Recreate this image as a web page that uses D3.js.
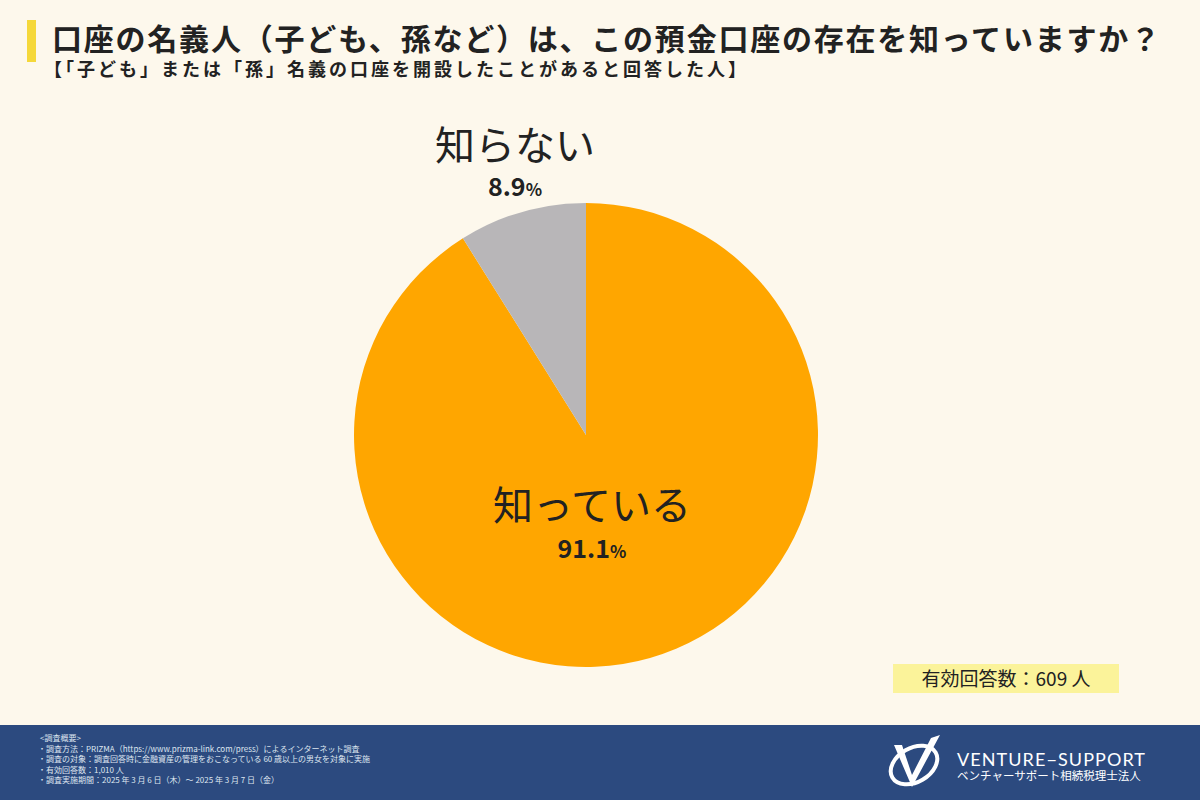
<!DOCTYPE html>
<html><head><meta charset="utf-8">
<script src="https://cdn.jsdelivr.net/npm/d3@7"></script>
<style>body{margin:0;background:#fdf8ec}svg{display:block;font-family:"Noto Sans CJK JP","Noto Sans",sans-serif}</style>
</head><body><div class="graf"></div>
<script>
// data
const labels = ['知っている', '知らない'];
const values = [91.1, 8.9];
const colors = ['#ffa600', '#b8b6b8'];
const notes = [
  '<調査概要>',
  '・調査方法：PRIZMA（https://www.prizma-link.com/press）によるインターネット調査',
  '・調査の対象：調査回答時に金融資産の管理をおこなっている 60 歳以上の男女を対象に実施',
  '・有効回答数：1,010 人',
  '・調査実施期間：2025 年 3 月 6 日（木）～ 2025 年 3 月 7 日（金）'
];

function main(){
  const width = 1200, height = 800;
  const svg = d3.select('.graf').append('svg').attr('width', width).attr('height', height);
  svg.append('rect').attr('width', width).attr('height', height).attr('fill', '#fdf8ec');

  // title
  svg.append('rect').attr('x', 27).attr('y', 20).attr('width', 9).attr('height', 42).attr('fill', '#f5d83a');
  svg.append('text').attr('x', 52).attr('y', 50).attr('font-size', 30).attr('font-weight', 700).attr('fill', '#222')
    .attr('textLength', 1108).attr('lengthAdjust', 'spacing')
    .text('口座の名義人（子ども、孫など）は、この預金口座の存在を知っていますか？');
  svg.append('text').attr('x', 44).attr('y', 76).attr('font-size', 18).attr('font-weight', 700).attr('fill', '#222')
    .attr('textLength', 702).attr('lengthAdjust', 'spacing')
    .text('【「子ども」または「孫」名義の口座を開設したことがあると回答した人】');

  // pie
  const cx = 586, cy = 435, r = 232;
  const pie = d3.pie().sort(null).value(d => d)(values);
  const arc = d3.arc().innerRadius(0).outerRadius(r);
  const g = svg.append('g').attr('transform', `translate(${cx},${cy})`);
  g.selectAll('path').data(pie).join('path').attr('d', arc).attr('fill', (d, i) => colors[i]);

  const lbl = [{x: 592, y: 520, y2: 558}, {x: 515, y: 160, y2: 196}];
  labels.forEach((t, i) => {
    svg.append('text').attr('x', lbl[i].x).attr('y', lbl[i].y).attr('text-anchor', 'middle')
      .attr('font-size', 40).attr('fill', '#222').text(t);
    const v = svg.append('text').attr('x', lbl[i].x).attr('y', lbl[i].y2).attr('text-anchor', 'middle')
      .attr('font-size', 25).attr('font-weight', 700).attr('fill', '#222');
    v.append('tspan').text(values[i].toFixed(1));
    v.append('tspan').attr('font-size', 17).text('%');
  });

  // badge
  svg.append('rect').attr('x', 893).attr('y', 664).attr('width', 226).attr('height', 29).attr('fill', '#fbf39a');
  svg.append('text').attr('x', 1006).attr('y', 686).attr('text-anchor', 'middle').attr('font-size', 19).attr('fill', '#222')
    .text('有効回答数：609 人');

  // footer
  svg.append('rect').attr('y', 725).attr('width', width).attr('height', 75).attr('fill', '#2c4a7f');
  svg.selectAll('.note').data(notes).join('text').attr('class', 'note')
    .attr('x', (d, i) => i ? 38 : 40).attr('y', (d, i) => 741 + i * 10.5)
    .attr('font-size', 8).attr('fill', '#dfe6f0').text(d => d);

  const logo = svg.append('g').attr('transform', 'translate(884,733)');
  logo.append('ellipse').attr('cx', 30).attr('cy', 32).attr('rx', 25).attr('ry', 17)
    .attr('fill', 'none').attr('stroke', '#fff').attr('stroke-width', 4).attr('transform', 'rotate(-30 30 32)');
  logo.append('path').attr('d', 'M10 12 L28 54 L56 2 L47 5 L28 42 L18 12 Z').attr('fill', '#fff');
  svg.append('text').attr('x', 957).attr('y', 766).attr('font-size', 18).attr('fill', '#fff')
    .attr('font-family', 'Lato, sans-serif').attr('textLength', 188).attr('lengthAdjust', 'spacing').text('VENTURE−SUPPORT');
  svg.append('text').attr('x', 957).attr('y', 780).attr('font-size', 11.5).attr('fill', '#fff')
    .text('ベンチャーサポート相続税理士法人');
}
main();
</script></body></html>
